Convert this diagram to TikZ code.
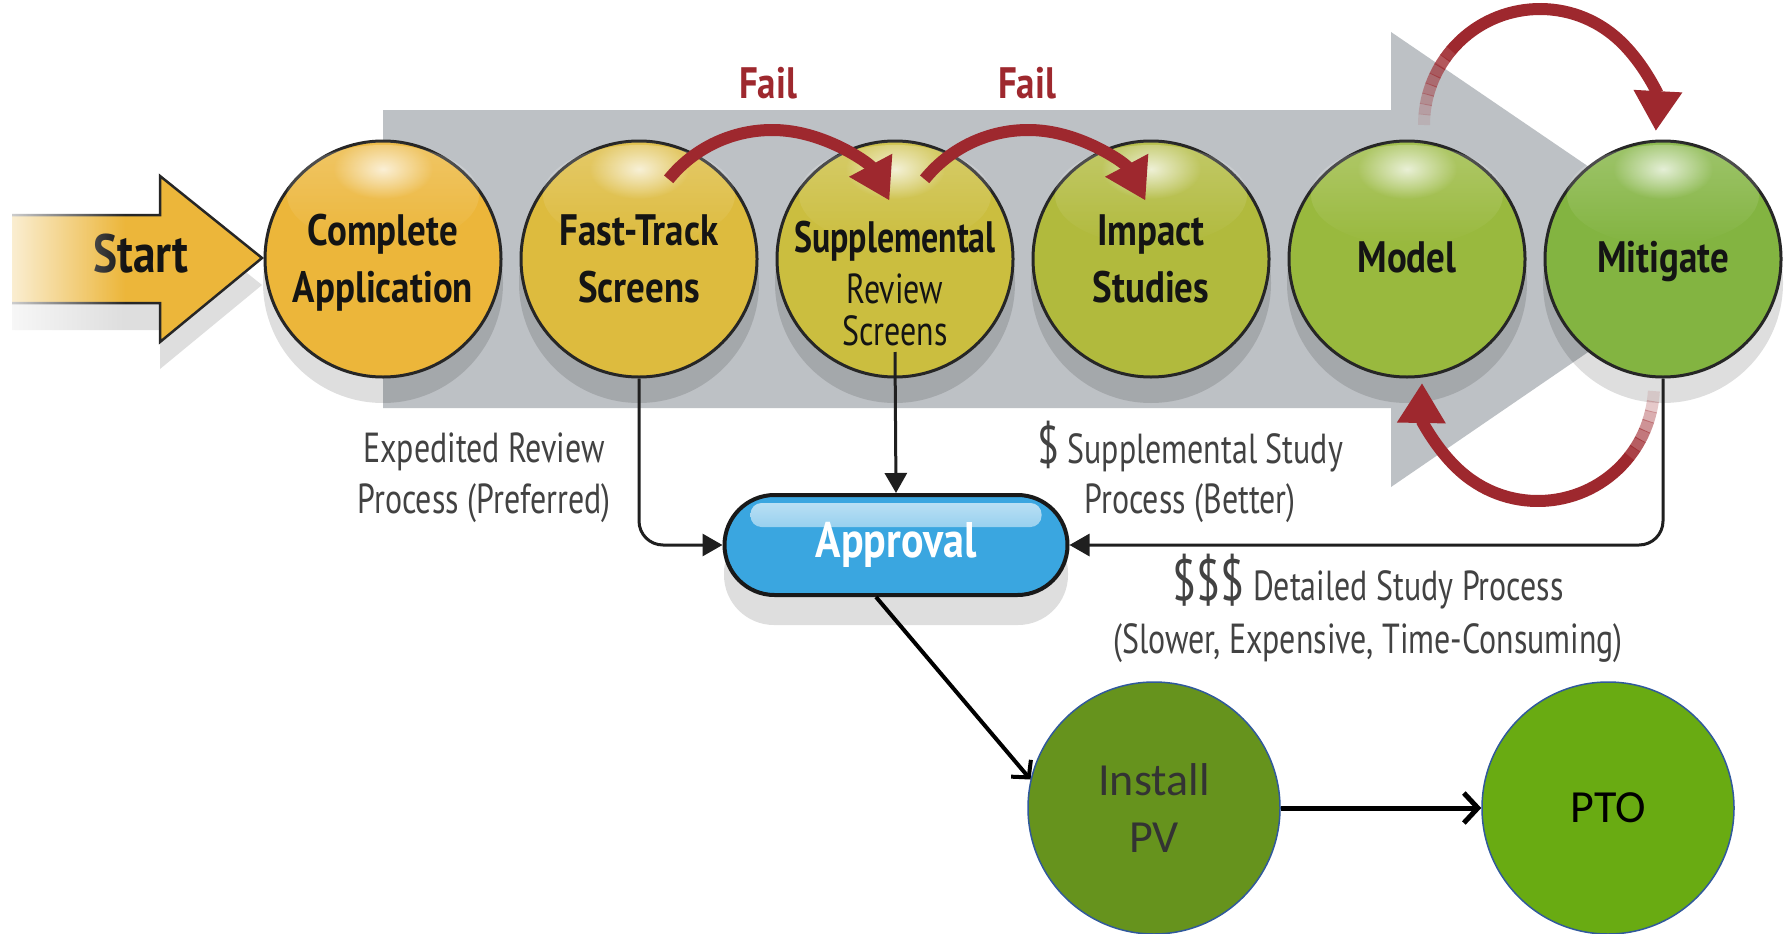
\documentclass[tikz,border=0pt]{standalone}
\usepackage{fontspec}
\usetikzlibrary{arrows.meta,calc,fadings}
\newfontfamily\condfont[FakeStretch=0.84]{PT Sans}
\newfontfamily\tightfont[FakeStretch=0.77]{PT Sans}
\newfontfamily\narrowfont[FakeStretch=0.76]{PT Sans}
\newfontfamily\calfont{Carlito}

\definecolor{bodygray}{HTML}{BDC1C5}
\definecolor{stA}{HTML}{ECB63A}
\definecolor{stB}{HTML}{DDBB3E}
\definecolor{stC}{HTML}{CBBE3F}
\definecolor{stD}{HTML}{B1BA3D}
\definecolor{stE}{HTML}{99B93E}
\definecolor{stF}{HTML}{83B441}
\definecolor{failred}{HTML}{9E282E}
\definecolor{apblue}{HTML}{3AA6E0}
\definecolor{installgreen}{HTML}{66931D}
\definecolor{ptogreen}{HTML}{69AB12}
\definecolor{ringblue}{HTML}{30599C}
\definecolor{labelgray}{HTML}{424242}

\tikzfading[name=glowfade, inner color=transparent!0, outer color=transparent!100]

\tikzset{
  stage/.style={circle, draw=black!85, line width=3pt, minimum size=236pt, inner sep=0pt},
  shadowfill/.style={fill=black, fill opacity=0.13},
  stagetxt/.style={anchor=base, inner sep=0pt, text=black!92,
    font=\condfont\bfseries\fontsize{44pt}{44pt}\selectfont},
  stagesub/.style={anchor=base, inner sep=0pt, text=black!92,
    font=\narrowfont\fontsize{42pt}{42pt}\selectfont},
  failtxt/.style={anchor=base, inner sep=0pt, text=failred,
    font=\condfont\bfseries\fontsize{44pt}{44pt}\selectfont},
  lbl/.style={anchor=base, inner sep=0pt, text=labelgray,
    font=\narrowfont\fontsize{42pt}{42pt}\selectfont},
  loop/.style={draw=failred, line width=12pt},
  looptip/.style={loop, -{Triangle[length=40pt,width=46pt]}},
  feed/.style={draw=black!88, line width=3pt, rounded corners=24pt,
    -{Triangle[length=20pt,width=22pt]}},
  pvstage/.style={circle, draw=ringblue, line width=1.5pt, minimum size=252pt, inner sep=0pt},
  pvtxt/.style={anchor=base, inner sep=0pt, font=\calfont\fontsize{46pt}{46pt}\selectfont},
}

\begin{document}
\begin{tikzpicture}[x=1pt,y=-1pt]
\useasboundingbox (0,0) rectangle (1788,934);
\fill[white] (0,0) rectangle (1788,934);

% wide grey process arrow behind the stages
\fill[bodygray] (383,110) -- (1391,110) -- (1391,32) -- (1724,259)
  -- (1391,487) -- (1391,408) -- (383,408) -- cycle;

% start arrow with its drop shadow
\fill[shadowfill] (12,242) -- (160,242) -- (160,203) -- (262,285)
  -- (160,369) -- (160,330) -- (12,330) -- cycle;
\filldraw[fill=stA, draw=black!85, line width=2.5pt, line join=miter]
  (12,215) -- (160,215) -- (160,176) -- (262,258) -- (160,342) -- (160,303) -- (12,303);
\node[anchor=base, inner sep=0pt, text=black!92,
  font=\condfont\bfseries\fontsize{54pt}{54pt}\selectfont] (start) at (141,272) {Start};
\fill[white, path fading=east, fill opacity=0.85] (0,165) rectangle (125,380);

% stage shadows
\foreach \x in {383,639,895,1151,1407,1663}
  \fill[shadowfill] (\x,283) circle[radius=120];

% stages
\node[stage, fill=stA] (ca) at (383,259) {};
\node[stage, fill=stB] (ft) at (639,259) {};
\node[stage, fill=stC] (sr) at (895,259) {};
\node[stage, fill=stD] (is) at (1151,259) {};
\node[stage, fill=stE] (mo) at (1407,259) {};
\node[stage, fill=stF] (mi) at (1663,259) {};

% glassy highlights
\foreach \n in {ca,ft,sr,is,mo,mi} {
  \fill[white, path fading=south, fill opacity=0.22] ($(\n.center)+(0,-64)$) ellipse[x radius=96, y radius=50];
  \fill[white, path fading=glowfade, fill opacity=0.75] ($(\n.center)+(0,-90)$) ellipse[x radius=50, y radius=30];
}

% stage labels
\node[stagetxt] (ca-a) at (383,245) {Complete};
\node[stagetxt] (ca-b) at (383,302) {Application};
\node[stagetxt] (ft-a) at (639,245) {Fast-Track};
\node[stagetxt] (ft-b) at (639,302) {Screens};
\node[stagetxt, font=\tightfont\bfseries\fontsize{44pt}{44pt}\selectfont] (sr-a) at (895,252) {Supplemental};
\node[stagesub] (sr-b) at (895,303) {Review};
\node[stagesub] (sr-c) at (895,345) {Screens};
\node[stagetxt] (is-a) at (1151,245) {Impact};
\node[stagetxt] (is-b) at (1151,302) {Studies};
\node[stagetxt] (mo-a) at (1407,272) {Model};
\node[stagetxt] (mi-a) at (1663,272) {Mitigate};

% fail loops
\node[failtxt] (fail1) at (768,98) {Fail};
\node[failtxt] (fail2) at (1027,98) {Fail};
\draw[looptip] ($(772,263)+(219:133)$) arc[start angle=219, end angle=332, radius=133];
\draw[looptip] ($(1028,263)+(219:133)$) arc[start angle=219, end angle=332, radius=133];

% model / mitigate iteration loop
\foreach \a [count=\i] in {180,185,...,215} {
  \pgfmathsetmacro\op{\i/9}
  \draw[loop, draw opacity=\op] ($(1540,125)+(\a:116)$) arc[start angle=\a, end angle=\a+5.4, radius=116];
}
\draw[looptip] ($(1540,125)+(220:116)$) arc[start angle=220, end angle=363, radius=116];
\foreach \a [count=\i] in {3,8,...,33} {
  \pgfmathsetmacro\op{\i/8}
  \draw[loop, draw opacity=\op] ($(1538,385)+(\a:116)$) arc[start angle=\a, end angle=\a+5.4, radius=116];
}
\draw[looptip] ($(1538,385)+(38:116)$) arc[start angle=38, end angle=181, radius=116];

% approval
\fill[shadowfill, rounded corners=50pt] (724,523) rectangle (1068,625);
\node[draw=black!90, line width=4pt, fill=apblue, rounded corners=50pt,
  minimum width=343pt, minimum height=100pt, inner sep=0pt, text=white,
  font=\condfont\bfseries\fontsize{50pt}{50pt}\selectfont,
  path picture={\fill[top color=white!70!apblue, bottom color=apblue, rounded corners=11pt]
    ([xshift=26pt,yshift=-8pt]path picture bounding box.north west) rectangle
    ([xshift=-26pt,yshift=-32pt]path picture bounding box.north east);}]
  (appr) at (896,545) {Approval};

% review paths into approval
\coordinate (sr-tail) at (895,352);
\draw[feed] (ft.south) |- (appr.west);
\draw[feed] (sr-tail) -- (appr.north);
\draw[feed] (mi.south) |- (appr.east);

\node[lbl] (exp-a) at (484,462) {Expedited Review};
\node[lbl] (exp-b) at (484,513) {Process (Preferred)};
\node[lbl] (sup-a) at (1190,463) {{\fontsize{53pt}{53pt}\selectfont\$} Supplemental Study};
\node[lbl] (sup-b) at (1190,513) {Process (Better)};
\node[lbl] (det-a) at (1368,600) {{\fontsize{58pt}{58pt}\selectfont\$\$\$} Detailed Study Process};
\node[lbl] (det-b) at (1368,653) {(Slower, Expensive, Time-Consuming)};

% installation and permission to operate
\node[pvstage, fill=installgreen] (inst) at (1154,808) {};
\node[pvstage, fill=ptogreen, text=black, font=\calfont\fontsize{46pt}{46pt}\selectfont] (pto) at (1608,808) {PTO};
\node[pvtxt, text=black!80] (inst-a) at (1154,795) {Install};
\node[pvtxt, text=black!80] (inst-b) at (1154,852) {PV};

\draw[line width=4pt, -{Straight Barb[length=12pt,width=26pt]}] ($(appr.south)+(-20,0)$) -- (inst.167);
\draw[line width=5pt, -{Straight Barb[length=14pt,width=30pt]}] (inst) -- (pto);
\end{tikzpicture}
\end{document}
